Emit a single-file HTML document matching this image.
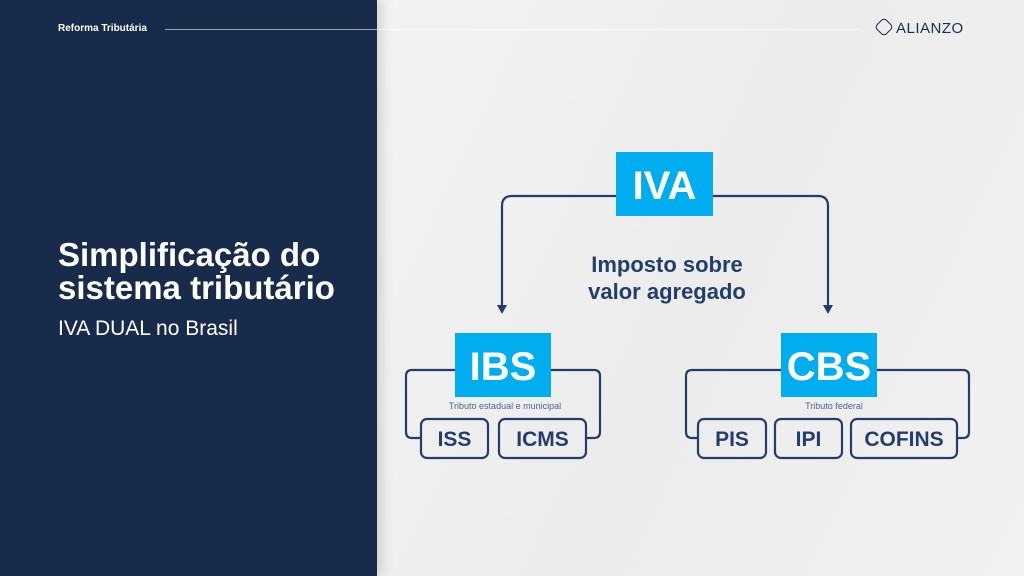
<!DOCTYPE html>
<html><head><meta charset="utf-8"><style>
*{margin:0;padding:0}
body{width:1024px;height:576px;overflow:hidden;position:relative;background:#efefef;font-family:"Liberation Sans",sans-serif}
.left{position:absolute;left:0;top:0;width:377px;height:576px;background:#182b4a;box-shadow:4px 0 12px rgba(0,0,0,.15)}
.t{position:absolute;white-space:nowrap}
</style></head><body>
<div style="position:absolute;left:377px;top:0;width:647px;height:576px;background:linear-gradient(115deg,#f3f3f3 0%,#ececec 50%,#f1f1f1 100%)"></div>
<div class="left"></div>
<div style="position:absolute;left:165px;top:29px;width:695px;height:1px;background:rgba(255,255,255,.55)"></div>
<div class="t" style="left:58px;top:23px;font-size:10px;font-weight:bold;color:#fff">Reforma Tributária</div>
<div class="t" style="left:877px;top:20px;font-size:15px;color:#1b2d4c;letter-spacing:0.5px"><span style="display:inline-block;width:12px;height:12px;border:1.5px solid #1b2d4c;border-radius:4px;transform:rotate(45deg);margin-right:5px;vertical-align:-1px"></span>ALIANZO</div>
<div class="t" style="left:58px;top:238px;font-size:33px;font-weight:bold;color:#fff;line-height:33px">Simplificação do<br>sistema tributário</div>
<div class="t" style="left:58px;top:317px;font-size:21px;color:#fff">IVA DUAL no Brasil</div>
<svg width="1024" height="576" style="position:absolute;left:0;top:0" font-family="Liberation Sans, sans-serif">
<g fill="none" stroke="#243e6c" stroke-width="2.2">
<path d="M616 196 H512 Q502 196 502 206 V310"/>
<path d="M713 196 H818 Q828 196 828 206 V310"/>
<path d="M455 370 H412 Q406 370 406 376 V432 Q406 438 412 438 H421"/>
<path d="M551 370 H594 Q600 370 600 376 V432 Q600 438 594 438 H586"/>
<path d="M781 370 H692 Q686 370 686 376 V432 Q686 438 692 438 H698"/>
<path d="M877 370 H963 Q969 370 969 376 V432 Q969 438 963 438 H957"/>
<rect x="421" y="419" width="67" height="39" rx="6"/>
<rect x="499" y="419" width="87" height="39" rx="6"/>
<rect x="698" y="419" width="68" height="39" rx="6"/>
<rect x="775" y="419" width="67" height="39" rx="6"/>
<rect x="851" y="419" width="106" height="39" rx="6"/>
</g>
<g fill="#243e6c">
<path d="M497 305 L502 314 L507 305 Z"/>
<path d="M823 305 L828 314 L833 305 Z"/>
</g>
<g fill="#00aeef">
<rect x="616" y="152" width="97" height="64"/>
<rect x="455" y="333" width="96" height="64"/>
<rect x="781" y="333" width="96" height="64"/>
</g>
<g fill="#fff" font-weight="bold" font-size="40" text-anchor="middle">
<text x="664.5" y="199">IVA</text>
<text x="503" y="380">IBS</text>
<text x="829" y="380">CBS</text>
</g>
<g fill="#243e6c" font-weight="bold" font-size="22" text-anchor="middle">
<text x="667" y="272">Imposto sobre</text>
<text x="667" y="299">valor agregado</text>
</g>
<g fill="#243e6c" font-weight="bold" font-size="21" text-anchor="middle">
<text x="454.5" y="446">ISS</text>
<text x="542.5" y="446">ICMS</text>
<text x="732" y="446">PIS</text>
<text x="808.5" y="446">IPI</text>
<text x="904" y="446">COFINS</text>
</g>
<g fill="#4a6590" font-size="9" text-anchor="middle">
<text x="505" y="409">Tributo estadual e municipal</text>
<text x="834" y="409">Tributo federal</text>
</g>
</svg>
</body></html>
